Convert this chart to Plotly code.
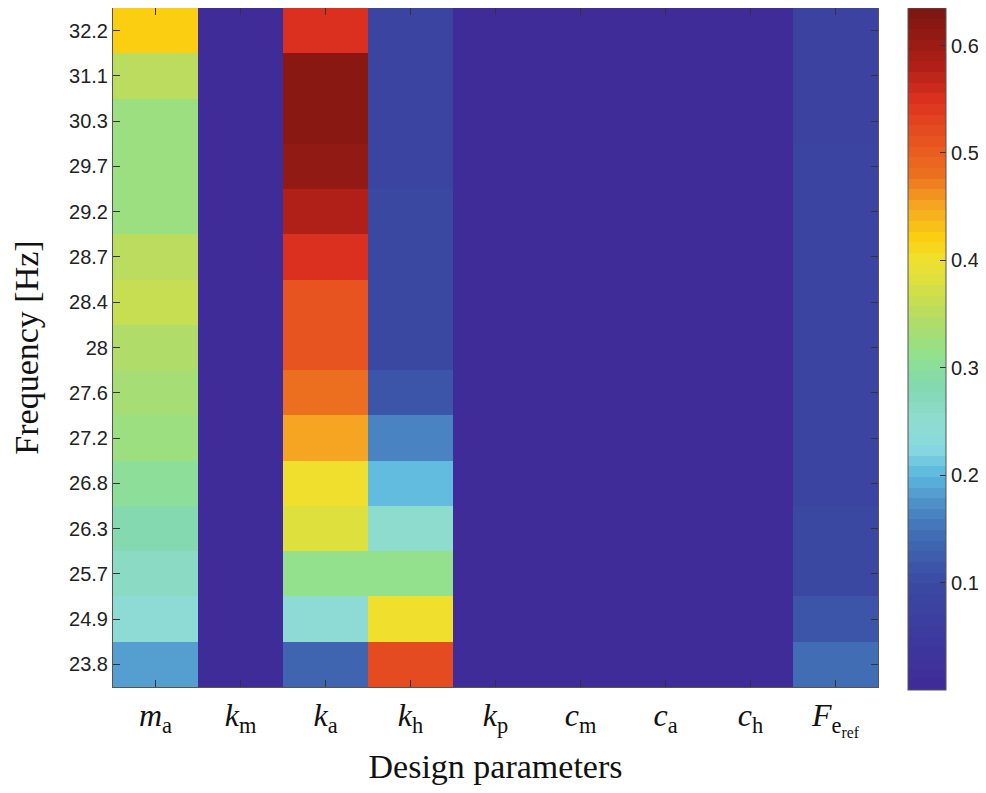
import plotly.graph_objects as go

params = ["m_a", "k_m", "k_a", "k_h", "k_p", "c_m", "c_a", "c_h", "F_eref"]
param_labels = [
    "<i>m</i><sub>a</sub>", "<i>k</i><sub>m</sub>", "<i>k</i><sub>a</sub>",
    "<i>k</i><sub>h</sub>", "<i>k</i><sub>p</sub>", "<i>c</i><sub>m</sub>",
    "<i>c</i><sub>a</sub>", "<i>c</i><sub>h</sub>",
    "<i>F</i><sub>e<sub>ref</sub></sub>",
]
freqs = ["23.8", "24.9", "25.7", "26.3", "26.8", "27.2", "27.6", "28",
         "28.4", "28.7", "29.2", "29.7", "30.3", "31.1", "32.2"]

# values per design parameter, bottom (23.8 Hz) to top (32.2 Hz)
m_a = [0.18, 0.24, 0.26, 0.28, 0.30, 0.32, 0.33, 0.34, 0.36, 0.355, 0.32, 0.32, 0.32, 0.35, 0.42]
k_m = [0.005] * 15
k_a = [0.13, 0.24, 0.31, 0.38, 0.40, 0.45, 0.48, 0.51, 0.51, 0.55, 0.58, 0.61, 0.62, 0.62, 0.55]
k_h = [0.52, 0.40, 0.31, 0.25, 0.205, 0.165, 0.11, 0.09, 0.09, 0.095, 0.09, 0.085, 0.085, 0.08, 0.08]
k_p = [0.005] * 15
c_m = [0.005] * 15
c_a = [0.005] * 15
c_h = [0.005] * 15
F_eref = [0.14, 0.11, 0.09, 0.09, 0.088, 0.088, 0.086, 0.085, 0.084, 0.083, 0.082, 0.08, 0.078, 0.076, 0.075]

columns = [m_a, k_m, k_a, k_h, k_p, c_m, c_a, c_h, F_eref]
z = [[col[i] for col in columns] for i in range(len(freqs))]

zmin, zmax = 0.0, 0.635
anchors = [
    (0.0, "#3f2a98"), (0.1, "#3a4aa3"), (0.15, "#4272b8"), (0.18, "#5298cc"),
    (0.2, "#5cb8e0"), (0.225, "#88d8e0"), (0.25, "#8fdcd0"), (0.28, "#84d8b4"),
    (0.31, "#90e090"), (0.35, "#b8dc60"), (0.38, "#dce040"), (0.40, "#f0e030"),
    (0.42, "#fbd010"), (0.45, "#f5a822"), (0.48, "#ec7020"), (0.51, "#e85520"),
    (0.55, "#dc3020"), (0.58, "#b02018"), (0.635, "#7a1510"),
]

def hex2rgb(h):
    h = h.lstrip("#")
    return [int(h[i:i + 2], 16) for i in (0, 2, 4)]

def color_at(v):
    for (v0, c0), (v1, c1) in zip(anchors[:-1], anchors[1:]):
        if v0 <= v <= v1:
            t = (v - v0) / (v1 - v0) if v1 > v0 else 0
            a, b = hex2rgb(c0), hex2rgb(c1)
            return "rgb(%d,%d,%d)" % tuple(round(a[k] + (b[k] - a[k]) * t) for k in range(3))
    return anchors[-1][1]

n = 64
colorscale = []
for i in range(n):
    c = color_at(zmin + (i + 0.5) / n * (zmax - zmin))
    colorscale.append([i / n, c])
    colorscale.append([(i + 1) / n, c])

# the page body has an 8px margin; work in page pixels and shift
OFF = 8
W, H = 986 - OFF, 793 - OFF
px_l, px_r, px_t, px_b = 113 - OFF, 878 - OFF, 5 - OFF + 3, 687 - OFF
cb_x, cb_t, cb_b = 908 - OFF, 5 - OFF + 3, 690 - OFF

fig = go.Figure(go.Heatmap(
    z=z, x=params, y=freqs, zmin=zmin, zmax=zmax, colorscale=colorscale,
    colorbar=dict(
        x=cb_x / W, xanchor="left", xpad=0, ypad=0,
        y=1 - (cb_t + cb_b) / 2 / H, yanchor="middle",
        len=(cb_b - cb_t) / H, lenmode="fraction", thickness=38, thicknessmode="pixels",
        outlinewidth=1, outlinecolor="#555",
        tickvals=[0.1, 0.2, 0.3, 0.4, 0.5, 0.6], ticks="inside", ticklen=6,
        tickcolor="#333", tickfont=dict(family="Liberation Sans", size=20, color="#222"),
    ),
))

fig.update_layout(
    width=W, height=H,
    margin=dict(l=0, r=0, t=0, b=0),
    paper_bgcolor="white", plot_bgcolor="white",
    xaxis=dict(
        domain=[px_l / W, px_r / W], automargin=False,
        tickmode="array", tickvals=params, ticktext=param_labels,
        ticks="inside", ticklen=7, tickcolor="#333", mirror="ticks",
        showline=True, linecolor="#555", linewidth=1,
        tickfont=dict(family="Liberation Serif", size=32, color="#111"),
        title=dict(text="Design parameters", font=dict(family="Liberation Serif", size=34, color="#111"), standoff=14),
    ),
    yaxis=dict(
        domain=[1 - px_b / H, 1 - px_t / H], automargin=False,
        type="category", ticks="inside", ticklen=7, tickcolor="#333", mirror="ticks",
        showline=True, linecolor="#555", linewidth=1,
        tickfont=dict(family="Liberation Sans", size=20, color="#222"),
        title=dict(text="Frequency [Hz]", font=dict(family="Liberation Serif", size=34, color="#111"), standoff=20),
    ),
)

fig.write_html("out.html")
